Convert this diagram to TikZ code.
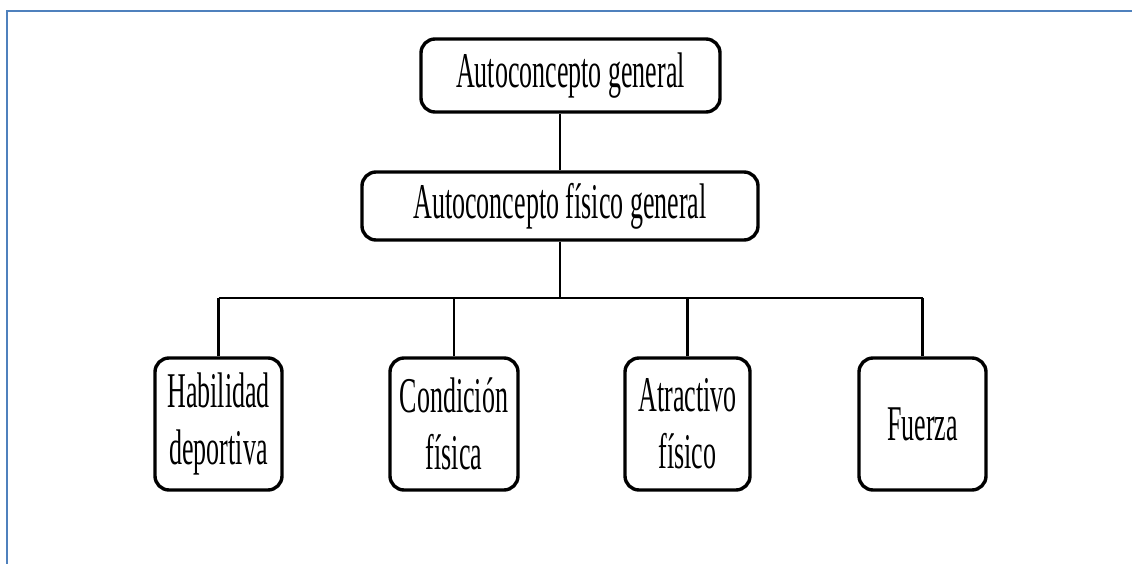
\documentclass[tikz,border=0pt]{standalone}
\usepackage{fontspec}
\newfontfamily\nf[FakeStretch=0.52]{Liberation Serif}
\definecolor{frameblue}{RGB}{79,129,189}
\begin{document}
\begin{tikzpicture}[x=1pt,y=-1pt,
  box/.style={draw=black, line width=3.4pt, rounded corners=14pt, fill=white,
    inner sep=0pt, align=center, font=\fontsize{50}{57}\selectfont\nf},
  conn/.style={draw=black, line width=2.6pt}]
\useasboundingbox (0,0) rectangle (1132,564);
\draw[frameblue, line width=2.2pt] (7,564) -- (7,11) -- (1132,11);
\node[box, minimum width=299pt, minimum height=73pt] (b1) at (570.5,75.5) {Autoconcepto general};
\node[box, minimum width=396pt, minimum height=68pt] (b2) at (560,206) {Autoconcepto físico general};
\node[box, minimum width=127pt, minimum height=132pt] (c1) at (218.5,424) {Habilidad\\deportiva};
\node[box, minimum width=128pt, minimum height=132pt] (c2) at (454,424) {Condición\\física};
\node[box, minimum width=125pt, minimum height=132pt] (c3) at (687.5,424) {Atractivo\\físico};
\node[box, minimum width=127pt, minimum height=132pt] (c4) at (922.5,424) {Fuerza};
\coordinate (bus) at (558,298);
\draw[conn] (b2.north) -- (b2.north |- b1.south);
\draw[conn] (b2.south) -- (b2.south |- bus);
\draw[conn] (c1.north |- bus) -- (c4.north |- bus);
\foreach \c in {c1,c2,c3,c4} \draw[conn] (\c.north) -- (\c.north |- bus);
\end{tikzpicture}
\end{document}
